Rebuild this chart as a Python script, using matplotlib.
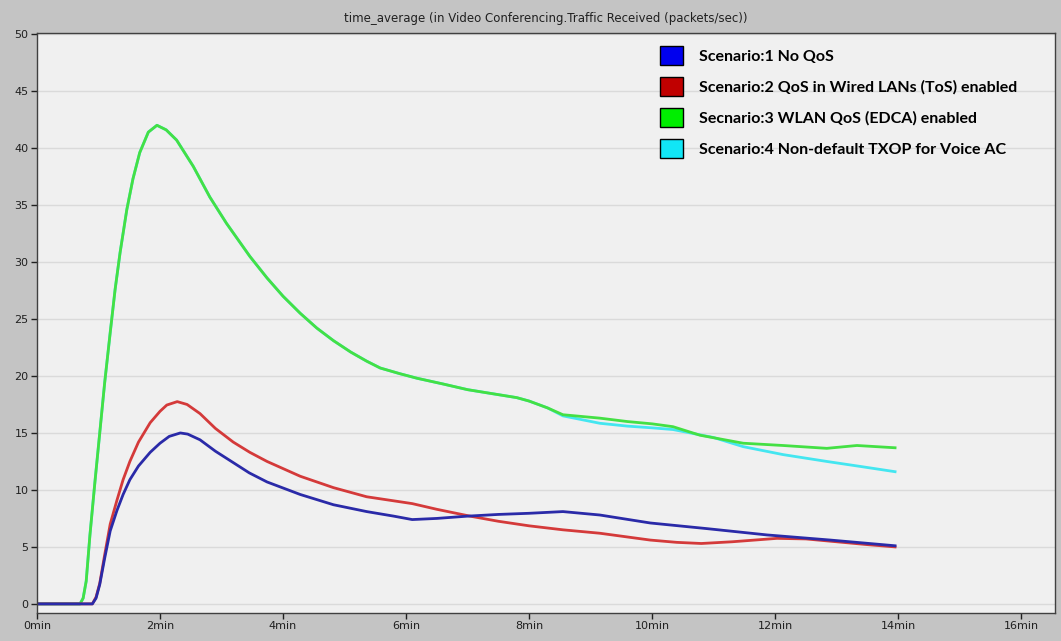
import matplotlib
matplotlib.use("Agg")
import matplotlib.pyplot as plt
from matplotlib.patches import Patch

# time in minutes, values in packets/sec
blue_t = [0, 0.9, 0.96, 1.02, 1.1, 1.19, 1.3, 1.4, 1.51, 1.65, 1.84, 2.0, 2.15, 2.33, 2.45,
          2.65, 2.9, 3.19, 3.45, 3.74, 4.28, 4.82, 5.36, 5.8, 6.1, 6.5, 7.0, 7.5, 8.0, 8.55,
          9.15, 9.97, 10.9, 11.87, 12.9, 13.95]
blue_v = [0, 0, 0.5, 1.7, 4.0, 6.4, 8.2, 9.6, 10.9, 12.1, 13.3, 14.1, 14.7, 15.0, 14.9,
          14.4, 13.4, 12.4, 11.5, 10.7, 9.6, 8.7, 8.1, 7.7, 7.4, 7.5, 7.7, 7.85, 7.95, 8.1,
          7.8, 7.1, 6.6, 6.05, 5.6, 5.1]

red_t = [0, 0.9, 0.96, 1.02, 1.1, 1.19, 1.3, 1.4, 1.51, 1.65, 1.84, 2.0, 2.11, 2.28, 2.44,
         2.65, 2.9, 3.19, 3.46, 3.74, 4.28, 4.82, 5.36, 6.1, 6.5, 7.04, 7.5, 8.0, 8.55,
         9.15, 9.97, 10.4, 10.8, 11.3, 12.03, 12.5, 13.0, 13.5, 13.95]
red_v = [0, 0, 0.6, 1.8, 4.3, 7.0, 9.1, 10.9, 12.5, 14.2, 15.9, 16.9, 17.45, 17.75, 17.5,
         16.7, 15.4, 14.2, 13.3, 12.5, 11.2, 10.2, 9.4, 8.8, 8.3, 7.7, 7.25, 6.85, 6.5,
         6.2, 5.6, 5.4, 5.3, 5.45, 5.75, 5.7, 5.45, 5.2, 5.0]

green_t = [0, 0.7, 0.75, 0.8, 0.86, 0.94, 1.02, 1.1, 1.19, 1.27, 1.35, 1.46, 1.56, 1.67,
           1.81, 1.95, 2.1, 2.27, 2.54, 2.81, 3.08, 3.46, 3.74, 4.0, 4.28, 4.55, 4.82, 5.1,
           5.36, 5.58, 5.9, 6.18, 6.6, 7.0, 7.4, 7.8, 8.0, 8.3, 8.55, 9.15, 9.6, 10.0,
           10.34, 10.78, 11.48, 12.13, 12.84, 13.33, 13.95]
green_v = [0, 0, 0.5, 2.0, 6.0, 10.6, 15.0, 19.4, 23.8, 27.6, 30.8, 34.6, 37.3, 39.6,
           41.4, 42.0, 41.6, 40.7, 38.4, 35.7, 33.4, 30.5, 28.6, 27.0, 25.5, 24.2, 23.1, 22.1,
           21.3, 20.7, 20.2, 19.8, 19.3, 18.8, 18.45, 18.1, 17.8, 17.2, 16.6, 16.3, 16.0, 15.8,
           15.55, 14.8, 14.1, 13.9, 13.65, 13.9, 13.7]

cyan_t = green_t[:38] + [8.55, 9.15, 9.6, 10.0, 10.34, 11.0, 11.48, 12.13, 12.84, 13.4, 13.95]
cyan_v = green_v[:38] + [16.5, 15.85, 15.6, 15.45, 15.3, 14.6, 13.8, 13.1, 12.5, 12.05, 11.6]

labels = ["Scenario:1 No QoS",
          "Scenario:2 QoS in Wired LANs (ToS) enabled",
          "Secnario:3 WLAN QoS (EDCA) enabled",
          "Scenario:4 Non-default TXOP for Voice AC"]
colors = ["#0000ee", "#c00000", "#00ee00", "#11e6f6"]
line_colors = ["#2a2aa8", "#d43a3a", "#44e044", "#44e6f0"]

x_ticks = list(range(0, 17, 2))
y_ticks = list(range(0, 51, 5))

fig = plt.figure(figsize=(10.61, 6.41), dpi=100, facecolor="#c4c4c4")
ax = fig.add_axes([37 / 1061, 1 - 613 / 641, (1055 - 37) / 1061, (613 - 33) / 641])
ax.set_facecolor("#f0f0f0")

ax.plot(cyan_t, cyan_v, color=line_colors[3], lw=2)
ax.plot(green_t, green_v, color=line_colors[2], lw=2)
ax.plot(red_t, red_v, color=line_colors[1], lw=2)
ax.plot(blue_t, blue_v, color=line_colors[0], lw=2)

ax.set_xlim(0, 16.55)
ax.set_ylim(-0.8, 50.1)
ax.set_xticks(x_ticks)
ax.set_xticklabels([f"{t}min" for t in x_ticks])
ax.set_yticks(y_ticks)
ax.tick_params(labelsize=8, colors="#202020", length=4, width=1, pad=2)
ax.yaxis.grid(True, color="#dadada", lw=1)
ax.set_axisbelow(True)
for s in ax.spines.values():
    s.set_color("#404040")
    s.set_linewidth(1)

ax.set_title("time_average (in Video Conferencing.Traffic Received (packets/sec))",
             fontsize=8.5, color="#202020", pad=8)

handles = [Patch(facecolor=c, edgecolor="black", lw=1) for c in colors]
ax.legend(handles, labels, loc="upper left", bbox_to_anchor=(652 / 1061, 1 - 38 / 641),
          bbox_transform=fig.transFigure, frameon=False, borderpad=0,
          handlelength=1.45, handleheight=1.45, handletextpad=1.0, labelspacing=0.75,
          prop={"family": "Lato", "weight": "bold", "size": 11.5})

fig.savefig("out.png", dpi=100, facecolor=fig.get_facecolor())
